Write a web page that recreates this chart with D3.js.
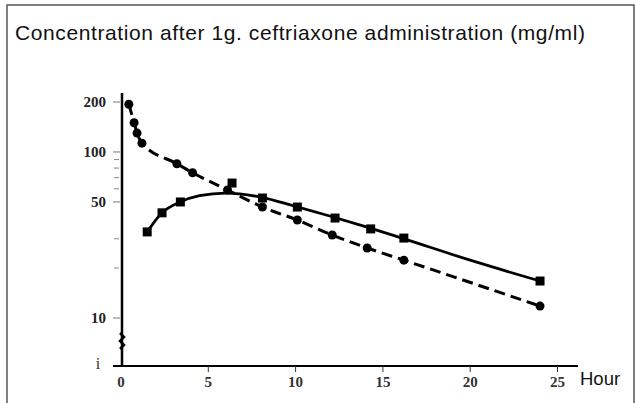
<!DOCTYPE html>
<html>
<head>
<meta charset="utf-8">
<script src="https://cdn.jsdelivr.net/npm/d3@7"></script>
<style>
  html, body { margin: 0; padding: 0; background: #fff; }
  svg { display: block; }
</style>
</head>
<body>
<svg id="chart" width="636" height="403"></svg>
<script>
// ---- Data ----
const titleText = "Concentration after 1g. ceftriaxone administration (mg/ml)";
const xTickValues = [0, 5, 10, 15, 20, 25];
const xTickLabels = ["0", "5", "10", "15", "20", "25"];
const xAxisTitle = "Hour";
const yMajorTicks = [200, 100, 50, 10];
const yMajorLabels = ["200", "100", "50", "10"];
const yMinorTicks = [90, 80, 70, 60, 30, 20];
const yBreakLabel = "i";

// dashed series (circles)
const ivHours = [0.45, 0.75, 0.92, 1.2, 3.2, 4.1, 6.1, 8.1, 10.1, 12.1, 14.1, 16.2, 24];
const ivConc  = [194, 150, 130, 113, 85, 75, 59, 46.6, 38.9, 31.6, 26.4, 22.3, 11.8];

// solid series (squares)
const imHours = [1.5, 2.35, 3.4, 6.36, 8.1, 10.1, 12.26, 14.3, 16.2, 24];
const imConc  = [33, 43, 50, 65, 52.8, 46.6, 40, 34.4, 30.3, 16.7];

// solid fitted curve
const imFitHours = [1.5, 2.35, 3.4, 4.5, 6, 8, 10, 12, 14, 16, 20, 24];
const imFitConc  = [33, 43, 50, 54.5, 56.5, 53.5, 47, 41, 35.5, 30.5, 22.3, 16.7];

// ---- Drawing ----
const svg = d3.select("#chart");

// frame
svg.append("rect")
  .attr("x", 7).attr("y", 5)
  .attr("width", 627).attr("height", 420)
  .attr("fill", "none").attr("stroke", "#555").attr("stroke-width", 1.5);

svg.append("text")
  .attr("x", 15).attr("y", 40)
  .attr("font-family", "Liberation Sans, Arial, sans-serif")
  .attr("font-size", 21)
  .attr("letter-spacing", 0.6)
  .attr("fill", "#111")
  .text(titleText);

const x = d3.scaleLinear().domain([0, 25]).range([121, 557.5]);
const y = d3.scaleLog().domain([10, 200]).range([318, 102]);
const yBase = 366;   // axis baseline (broken axis value "1")

// y axis line
svg.append("line")
  .attr("x1", 122).attr("x2", 122).attr("y1", 93).attr("y2", yBase + 1)
  .attr("stroke", "#000").attr("stroke-width", 2.5);

// y ticks
svg.append("g").selectAll("line").data(yMajorTicks).join("line")
  .attr("x1", 113).attr("x2", 120)
  .attr("y1", d => y(d)).attr("y2", d => y(d))
  .attr("stroke", "#777").attr("stroke-width", 1);
svg.append("g").selectAll("line").data(yMinorTicks).join("line")
  .attr("x1", 114).attr("x2", 119)
  .attr("y1", d => y(d)).attr("y2", d => y(d))
  .attr("stroke", "#888").attr("stroke-width", 1);

svg.append("g").selectAll("text").data(yMajorTicks).join("text")
  .attr("x", 106).attr("y", d => y(d))
  .attr("dy", "0.35em")
  .attr("text-anchor", "end")
  .attr("font-family", "Liberation Serif, Times New Roman, serif")
  .attr("font-size", 15).attr("font-weight", "bold")
  .attr("fill", "#222")
  .text((d, i) => yMajorLabels[i]);

svg.append("text")
  .attr("x", 98).attr("y", 363).attr("dy", "0.35em")
  .attr("text-anchor", "middle")
  .attr("font-family", "Liberation Serif, Times New Roman, serif")
  .attr("font-size", 16)
  .attr("fill", "#333")
  .text(yBreakLabel);

// break marks on y axis
svg.append("path")
  .attr("d", "M120,333 L124,337 L120,341 L124,345 L120,349")
  .attr("fill", "none").attr("stroke", "#000").attr("stroke-width", 2.5);

// x axis line
svg.append("line")
  .attr("x1", 113).attr("x2", 578).attr("y1", yBase).attr("y2", yBase)
  .attr("stroke", "#000").attr("stroke-width", 2);

svg.append("g").selectAll("line").data(xTickValues.slice(1)).join("line")
  .attr("x1", d => x(d)).attr("x2", d => x(d))
  .attr("y1", yBase).attr("y2", yBase + 6)
  .attr("stroke", "#333").attr("stroke-width", 1);

svg.append("g").selectAll("text").data(xTickValues).join("text")
  .attr("x", d => x(d)).attr("y", 387)
  .attr("text-anchor", "middle")
  .attr("font-family", "Liberation Serif, Times New Roman, serif")
  .attr("font-size", 15).attr("font-weight", "bold")
  .attr("fill", "#333")
  .text((d, i) => xTickLabels[i]);

svg.append("text")
  .attr("x", 580).attr("y", 385)
  .attr("font-family", "Liberation Sans, Arial, sans-serif")
  .attr("font-size", 18.5)
  .attr("fill", "#111")
  .text(xAxisTitle);

// lines
const ivLine = d3.line()
  .x((d, i) => x(ivHours[i])).y(d => y(d))
  .curve(d3.curveMonotoneX);
svg.append("path")
  .attr("d", ivLine(ivConc))
  .attr("fill", "none").attr("stroke", "#000")
  .attr("stroke-width", 3).attr("stroke-dasharray", "11,6");

const imLine = d3.line()
  .x((d, i) => x(imFitHours[i])).y(d => y(d))
  .curve(d3.curveMonotoneX);
svg.append("path")
  .attr("d", imLine(imFitConc))
  .attr("fill", "none").attr("stroke", "#000")
  .attr("stroke-width", 2.8);

// markers
svg.append("g").selectAll("circle").data(ivConc).join("circle")
  .attr("cx", (d, i) => x(ivHours[i])).attr("cy", d => y(d))
  .attr("r", 4.5).attr("fill", "#000");

const sq = 9;
svg.append("g").selectAll("rect").data(imConc).join("rect")
  .attr("x", (d, i) => x(imHours[i]) - sq / 2).attr("y", d => y(d) - sq / 2)
  .attr("width", sq).attr("height", sq).attr("fill", "#000");
</script>
</body>
</html>
